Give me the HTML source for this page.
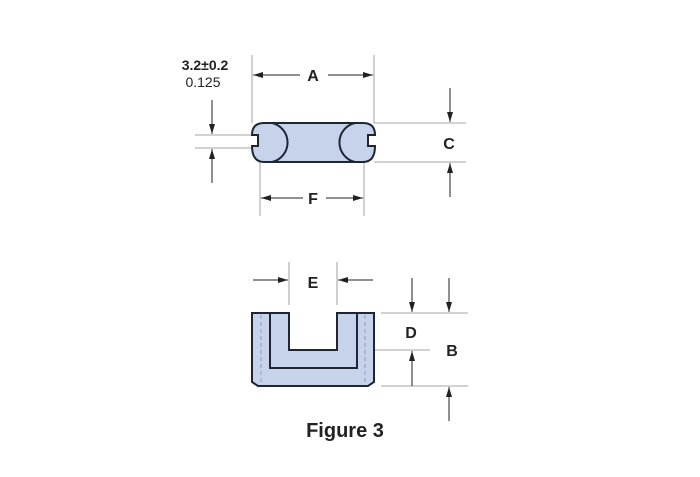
<!DOCTYPE html>
<html><head><meta charset="utf-8"><style>
html,body{margin:0;padding:0;background:#fff;}
svg{display:block;}
text{font-family:"Liberation Sans",Arial,sans-serif;fill:#222;}
</style></head><body>
<svg width="700" height="477" viewBox="0 0 700 477" xmlns="http://www.w3.org/2000/svg">
<defs>
<marker id="ar" viewBox="0 0 10 6" refX="10" refY="3" markerWidth="10" markerHeight="6" markerUnits="userSpaceOnUse" orient="auto"><path d="M0,0 L10,3 L0,6 Z" fill="#222"/></marker>
</defs>
<g stroke="#888" stroke-width="0.8" fill="none">
<!-- top extension lines -->
<line x1="252" y1="55" x2="252" y2="123"/>
<line x1="374" y1="55" x2="374" y2="123"/>
<line x1="374" y1="123" x2="466" y2="123"/>
<line x1="374" y1="162" x2="466" y2="162"/>
<line x1="260" y1="162" x2="260" y2="216"/>
<line x1="364" y1="162" x2="364" y2="216"/>
<line x1="195" y1="135" x2="252" y2="135"/>
<line x1="195" y1="148" x2="252" y2="148"/>
<!-- bottom -->
<line x1="289" y1="262" x2="289" y2="305"/>
<line x1="337" y1="262" x2="337" y2="305"/>
<line x1="381" y1="313" x2="468" y2="313"/>
<line x1="345" y1="350" x2="430" y2="350"/>
<line x1="381" y1="386" x2="468" y2="386"/>
</g>
<g stroke="#222" stroke-width="1" fill="none">
<!-- A -->
<line x1="300" y1="75" x2="253" y2="75" marker-end="url(#ar)"/>
<line x1="328" y1="75" x2="373" y2="75" marker-end="url(#ar)"/>
<!-- F -->
<line x1="303" y1="198" x2="261" y2="198" marker-end="url(#ar)"/>
<line x1="326" y1="198" x2="363" y2="198" marker-end="url(#ar)"/>
<!-- C -->
<line x1="450" y1="88" x2="450" y2="122" marker-end="url(#ar)"/>
<line x1="450" y1="197" x2="450" y2="163" marker-end="url(#ar)"/>
<!-- slot -->
<line x1="212" y1="100" x2="212" y2="134" marker-end="url(#ar)"/>
<line x1="212" y1="183" x2="212" y2="149" marker-end="url(#ar)"/>
<!-- E -->
<line x1="253" y1="280" x2="288" y2="280" marker-end="url(#ar)"/>
<line x1="373" y1="280" x2="338" y2="280" marker-end="url(#ar)"/>
<!-- D -->
<line x1="412" y1="278" x2="412" y2="312" marker-end="url(#ar)"/>
<line x1="412" y1="386" x2="412" y2="351" marker-end="url(#ar)"/>
<!-- B -->
<line x1="449" y1="278" x2="449" y2="312" marker-end="url(#ar)"/>
<line x1="449" y1="421" x2="449" y2="387" marker-end="url(#ar)"/>
</g>
<!-- top part -->
<path d="M264,123 H363 Q375,123 375,135 H368 V146 H375 Q375,162 363,162 H264 Q252,162 252,146 H258 V135 H252 Q252,123 264,123 Z" fill="#c6d3ea" stroke="#1e2633" stroke-width="2"/>
<path d="M272,123 A20,20 0 0 1 272,162" fill="none" stroke="#1e2633" stroke-width="2"/>
<path d="M355,123 A20,20 0 0 0 355,162" fill="none" stroke="#1e2633" stroke-width="2"/>
<!-- bottom part -->
<path d="M252,313 H289 V350 H337 V313 H374 V382 L368,386 H258 L252,382 Z" fill="#c6d3ea" stroke="#1e2633" stroke-width="2"/>
<path d="M270,313 V368 H357 V313" fill="none" stroke="#1e2633" stroke-width="2"/>
<g stroke="#7f8ea8" stroke-width="0.8" stroke-dasharray="4,3">
<line x1="261" y1="315" x2="261" y2="384"/>
<line x1="365" y1="315" x2="365" y2="384"/>
</g>
<g font-weight="bold" font-size="16" text-anchor="middle">
<text x="313" y="81">A</text>
<text x="313" y="204">F</text>
<text x="449" y="149">C</text>
<text x="313" y="288">E</text>
<text x="411" y="338">D</text>
<text x="452" y="356">B</text>
</g>
<text x="205" y="70" font-size="14" font-weight="bold" text-anchor="middle">3.2±0.2</text>
<text x="203" y="87" font-size="14" text-anchor="middle">0.125</text>
<text x="345" y="437" font-size="20" text-anchor="middle" font-weight="bold" fill="#333">Figure 3</text>
</svg>
</body></html>
